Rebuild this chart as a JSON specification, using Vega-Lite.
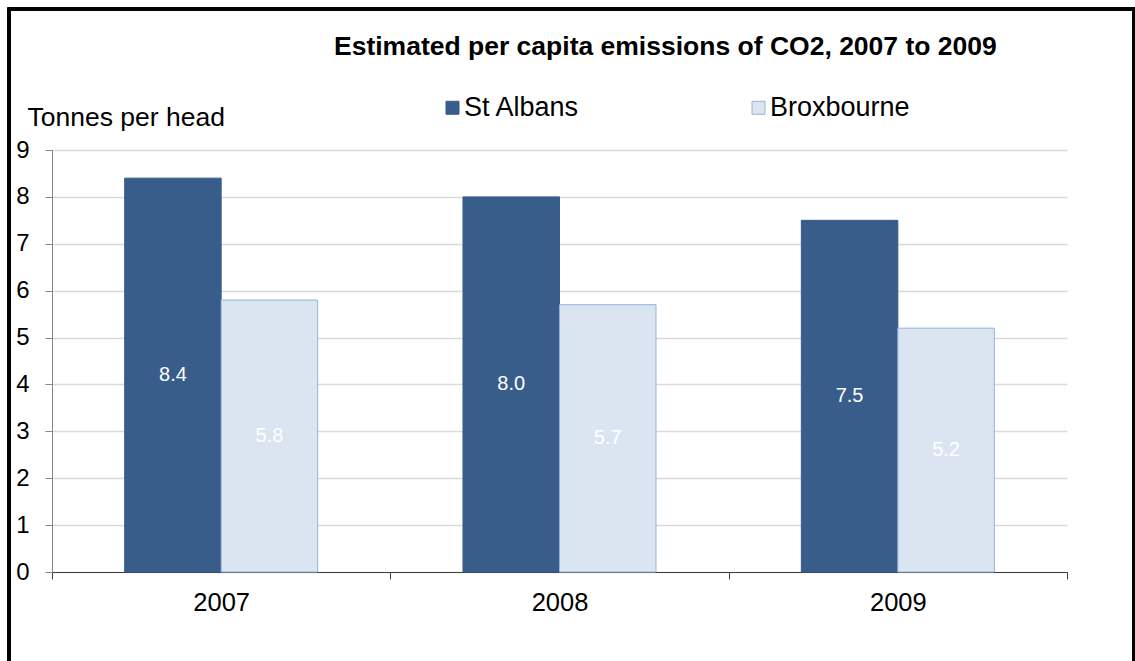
{
  "$schema": "https://vega.github.io/schema/vega-lite/v6.json",
  "width": 1015,
  "height": 422,
  "autosize": "none",
  "padding": {"left": 52, "top": 150, "right": 68, "bottom": 89},
  "background": "white",
  "config": {
    "font": "Liberation Sans",
    "view": {"stroke": null}
  },
  "title": {
    "text": "Estimated per capita emissions of CO2, 2007 to 2009",
    "anchor": "start",
    "frame": "group",
    "dx": 282,
    "fontSize": 26.5,
    "fontWeight": "bold",
    "color": "black",
    "baseline": "alphabetic",
    "offset": -74
  },
  "data": {
    "values": [
      {"year": "2007", "area": "St Albans", "value": 8.4},
      {"year": "2007", "area": "Broxbourne", "value": 5.8},
      {"year": "2008", "area": "St Albans", "value": 8.0},
      {"year": "2008", "area": "Broxbourne", "value": 5.7},
      {"year": "2009", "area": "St Albans", "value": 7.5},
      {"year": "2009", "area": "Broxbourne", "value": 5.2}
    ]
  },
  "layer": [
    {
      "mark": {
        "type": "rect",
        "fill": null,
        "stroke": "black",
        "strokeWidth": 3,
        "x": -43,
        "x2": 1082,
        "y": -141,
        "y2": 514
      },
      "encoding": {}
    },
    {
      "mark": {"type": "bar", "strokeWidth": 1},
      "encoding": {
        "x": {
          "field": "year",
          "type": "nominal",
          "scale": {"paddingInner": 0, "paddingOuter": 0},
          "axis": {
            "title": null,
            "labelAngle": 0,
            "tickBand": "extent",
            "tickSize": 7,
            "tickColor": "#404040",
            "domainColor": "#404040",
            "labelFontSize": 25.5,
            "labelColor": "black",
            "labelPadding": 11,
            "grid": false
          }
        },
        "xOffset": {
          "field": "area",
          "type": "nominal",
          "sort": ["St Albans", "Broxbourne"],
          "scale": {"paddingInner": 0, "paddingOuter": 0.753}
        },
        "y": {
          "field": "value",
          "type": "quantitative",
          "scale": {"domain": [0, 9]},
          "axis": {
            "title": "Tonnes per head",
            "titleAngle": 0,
            "titleX": -25,
            "titleY": -25,
            "titleAlign": "left",
            "titleBaseline": "alphabetic",
            "titleFontSize": 26.5,
            "titleFontWeight": "normal",
            "titleColor": "black",
            "values": [0, 1, 2, 3, 4, 5, 6, 7, 8, 9],
            "format": "d",
            "labelFontSize": 24,
            "labelColor": "black",
            "labelPadding": 16,
            "tickSize": 7,
            "tickColor": "#868686",
            "domainColor": "#868686",
            "grid": true,
            "gridColor": "#D9D9D9",
            "gridWidth": 1.3
          }
        },
        "color": {
          "field": "area",
          "type": "nominal",
          "sort": ["St Albans", "Broxbourne"],
          "scale": {"domain": ["St Albans", "Broxbourne"], "range": ["#385D8A", "#DBE5F1"]},
          "legend": {
            "title": null,
            "orient": "none",
            "legendX": 387,
            "legendY": -56,
            "direction": "horizontal",
            "padding": 0,
            "symbolType": "square",
            "symbolSize": 169,
            "symbolStrokeWidth": 1,
            "labelFontSize": 27,
            "labelColor": "black",
            "labelOffset": -2,
            "columnPadding": 165
          }
        },
        "stroke": {
          "field": "area",
          "type": "nominal",
          "sort": ["St Albans", "Broxbourne"],
          "scale": {"domain": ["St Albans", "Broxbourne"], "range": ["#385D8A", "#95B3D7"]},
          "legend": {
            "title": null,
            "orient": "none",
            "legendX": 387,
            "legendY": -56,
            "direction": "horizontal",
            "padding": 0,
            "symbolType": "square",
            "symbolSize": 169,
            "symbolStrokeWidth": 1,
            "labelFontSize": 27,
            "labelColor": "black",
            "labelOffset": -2,
            "columnPadding": 165
          }
        }
      }
    },
    {
      "mark": {"type": "text", "color": "white", "fontSize": 20},
      "encoding": {
        "x": {"field": "year", "type": "nominal"},
        "xOffset": {"field": "area", "type": "nominal", "sort": ["St Albans", "Broxbourne"]},
        "y": {"field": "value", "type": "quantitative", "stack": "zero", "bandPosition": 0.5},
        "text": {"field": "value", "type": "quantitative", "format": ".1f"}
      }
    }
  ]
}
